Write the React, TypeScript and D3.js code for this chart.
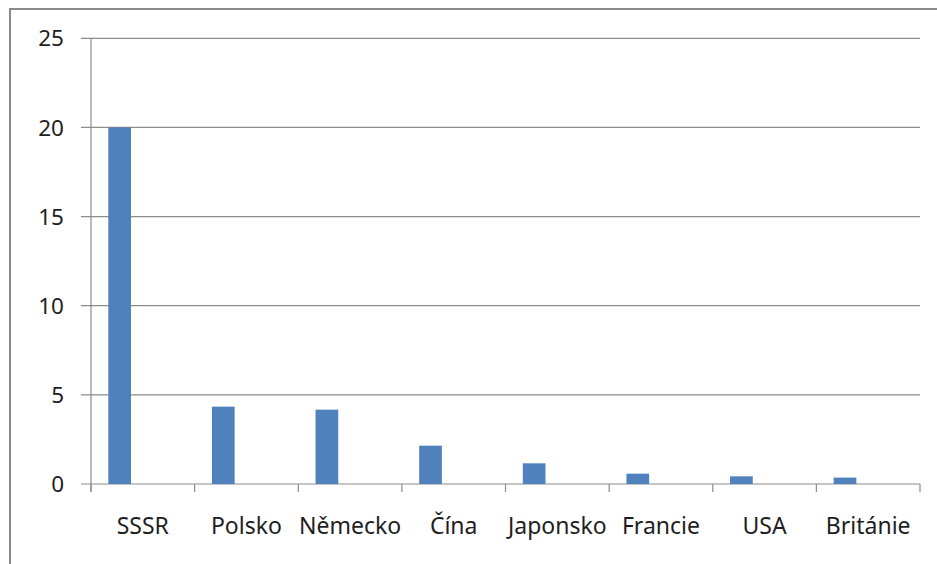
import * as d3 from "d3";
import React from "react";

const categories = ["SSSR", "Polsko", "Německo", "Čína", "Japonsko", "Francie", "USA", "Británie"];
const values = [20, 4.34, 4.17, 2.15, 1.16, 0.58, 0.43, 0.36];
const yTicks = [0, 5, 10, 15, 20, 25];

const App = () => {
  const width = 937;
  const height = 564;
  const left = 91;
  const right = 920;
  const top = 38.3;
  const bottom = 484;

  const x = d3.scaleBand<string>().domain(categories).range([left, right]).padding(0);
  const y = d3.scaleLinear().domain([0, 25]).range([bottom, top]);
  const bw = x.bandwidth();
  const font = "'Noto Sans', 'DejaVu Sans', sans-serif";

  return (
    <svg width={width} height={height} style={{ position: "absolute", left: 0, top: 0 }}>
      <rect x={0} y={0} width={width} height={height} fill="#fff" />
      {/* outer chart border (top + left only visible) */}
      <line x1={10} x2={width} y1={9} y2={9} stroke="#8a8a8a" strokeWidth={2} />
      <line x1={10} x2={10} y1={8} y2={height} stroke="#8a8a8a" strokeWidth={2} />

      {/* gridlines + y tick labels */}
      {yTicks.map((t) => (
        <g key={t}>
          <line x1={81} x2={right} y1={y(t)} y2={y(t)} stroke="#8c8c8c" strokeWidth={1.2} />
          <text x={64} y={y(t)} dy="0.36em" textAnchor="end" fontFamily={font} fontSize={22.5} fill="#1e1e1e">
            {t}
          </text>
        </g>
      ))}

      {/* y axis */}
      <line x1={left} x2={left} y1={top} y2={bottom + 8} stroke="#8c8c8c" strokeWidth={1.2} />

      {/* x ticks */}
      {d3.range(categories.length + 1).map((i) => (
        <line key={i} x1={left + i * bw} x2={left + i * bw} y1={bottom} y2={bottom + 8} stroke="#8c8c8c" strokeWidth={1.2} />
      ))}

      {/* bars */}
      {categories.map((c, i) => (
        <rect
          key={c}
          x={(x(c) as number) + bw * 0.167}
          y={y(values[i])}
          width={bw * 0.219}
          height={bottom - y(values[i])}
          fill="#4f81bd"
        />
      ))}

      {/* x labels */}
      {categories.map((c) => (
        <text key={c} x={(x(c) as number) + bw / 2} y={534} textAnchor="middle" fontFamily={font} fontSize={23} fill="#1e1e1e">
          {c}
        </text>
      ))}
    </svg>
  );
};

export default App;
